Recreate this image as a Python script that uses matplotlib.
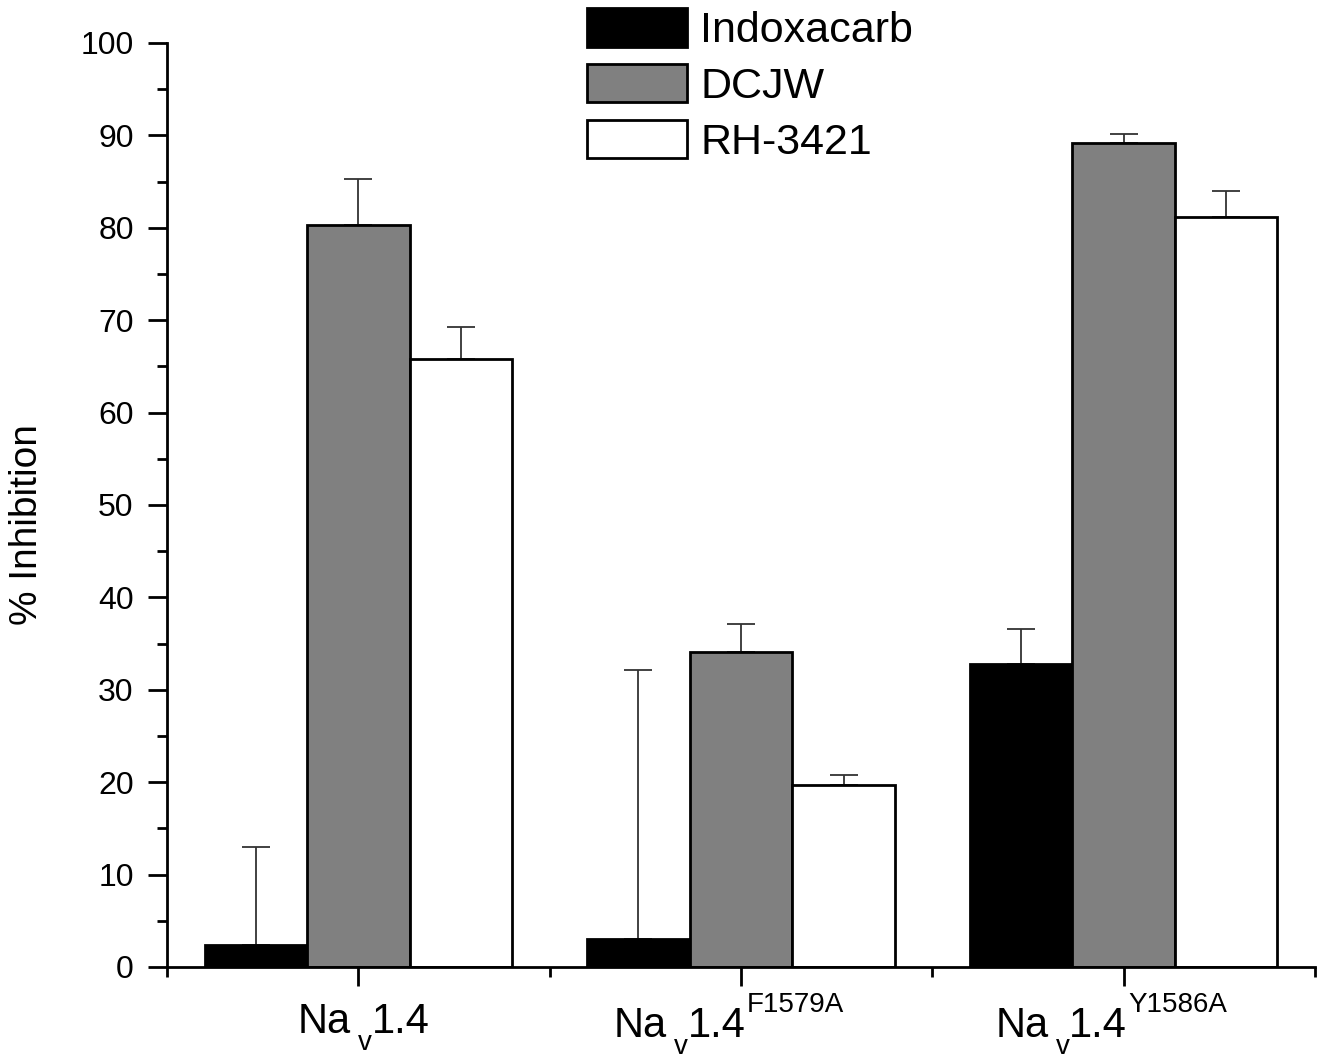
import matplotlib
matplotlib.use("Agg")
import matplotlib.pyplot as plt
import numpy as np

plt.rcParams['font.family'] = ['Liberation Sans', 'DejaVu Sans']

# label pieces: (main, subscript, main2, superscript)
cat_main = ['Na', 'Na', 'Na']
cat_sub = ['v', 'v', 'v']
cat_main2 = ['1.4', '1.4', '1.4']
cat_sup = ['', 'F1579A', 'Y1586A']
series = ['Indoxacarb', 'DCJW', 'RH-3421']
indoxacarb = [2.4, 3.0, 32.8]
indoxacarb_err = [10.6, 29.1, 3.8]
dcjw = [80.3, 34.1, 89.2]
dcjw_err = [5.0, 3.0, 0.9]
rh3421 = [65.8, 19.7, 81.2]
rh3421_err = [3.5, 1.1, 2.8]
yticks = list(range(0, 101, 10))

values = [indoxacarb, dcjw, rh3421]
errors = [indoxacarb_err, dcjw_err, rh3421_err]
colors = ['black', '#808080', 'white']

fig = plt.figure(figsize=(13.26, 10.59), dpi=100)
ax = fig.add_axes([167/1326, 1-967/1059, (1315-167)/1326, (967-43)/1059])

x = np.arange(1, len(cat_main) + 1)
w = 0.268
for i, (vals, errs, c, name) in enumerate(zip(values, errors, colors, series)):
    pos = x + (i - 1) * w
    ax.errorbar(pos, vals, yerr=[np.zeros(len(vals)), errs], fmt='none',
                ecolor='#333333', elinewidth=1.3, capsize=10, capthick=1.3, zorder=1)
    ax.bar(pos, vals, width=w, color=c, edgecolor='black', linewidth=2,
           label=name, zorder=2)

ax.set_xlim(0.5, 3.5)
ax.set_ylim(0, 100)
ax.spines['top'].set_visible(False)
ax.spines['right'].set_visible(False)
ax.spines['left'].set_linewidth(2)
ax.spines['bottom'].set_linewidth(2)
ax.set_yticks(yticks)
ax.set_yticklabels([str(t) for t in yticks])
ax.set_yticks(np.arange(5, 100, 10), minor=True)
ax.set_xticks(x)
ax.set_xticklabels([''] * len(x))
ax.set_xticks([0.5, 1.5, 2.5, 3.5], minor=True)
ax.tick_params(axis='y', labelsize=23, width=2, length=14, pad=10, direction='out')
ax.tick_params(axis='y', which='minor', width=2, length=7)
ax.tick_params(axis='x', width=2, length=14)
ax.tick_params(axis='x', which='minor', width=2, length=7)
ax.set_ylabel('% Inhibition', fontsize=28)
ax.yaxis.set_label_coords(-0.106, 0.479)

# composite x tick labels
renderer = fig.canvas.get_renderer()
MAIN_FS = 30
SMALL_FS = 20

def text_width(s, fs):
    if not s:
        return 0.0
    t = fig.text(0, 0, s, fontsize=fs)
    wdt = t.get_window_extent(renderer).width
    t.remove()
    return wdt

for xi, m1, sb, m2, sp in zip(x, cat_main, cat_sub, cat_main2, cat_sup):
    w1 = text_width(m1, MAIN_FS)
    ws = text_width(sb, SMALL_FS)
    w2 = text_width(m2, MAIN_FS)
    wp = text_width(sp, SMALL_FS)
    gap_sub = 7
    total = w1 + gap_sub + ws + w2 + (wp + 2 if sp else 0)
    start = -total / 2 + (-12 if sp else 5)
    base = -66 if not sp else -70
    x_sub = start + w1 + gap_sub
    x_m2 = x_sub + ws
    pieces = [(m1, MAIN_FS, start, base),
              (sb, SMALL_FS, x_sub, base - 17),
              (m2, MAIN_FS, x_m2, base)]
    if sp:
        pieces.append((sp, SMALL_FS, x_m2 + w2 + 1, base + 25))
    for s, fs, dx, dy in pieces:
        ax.annotate(s, xy=(xi, 0), xycoords=('data', 'axes fraction'),
                    xytext=(dx, dy), textcoords='offset pixels',
                    ha='left', va='baseline', fontsize=fs, annotation_clip=False)

fig.legend(loc='upper left', bbox_to_anchor=(587/1326, 1-8/1059), frameon=False,
           fontsize=31, handlelength=2.33, handleheight=1.0, handletextpad=0.3,
           labelspacing=0.3, borderpad=0, borderaxespad=0)

fig.savefig('out.png', dpi=100)
